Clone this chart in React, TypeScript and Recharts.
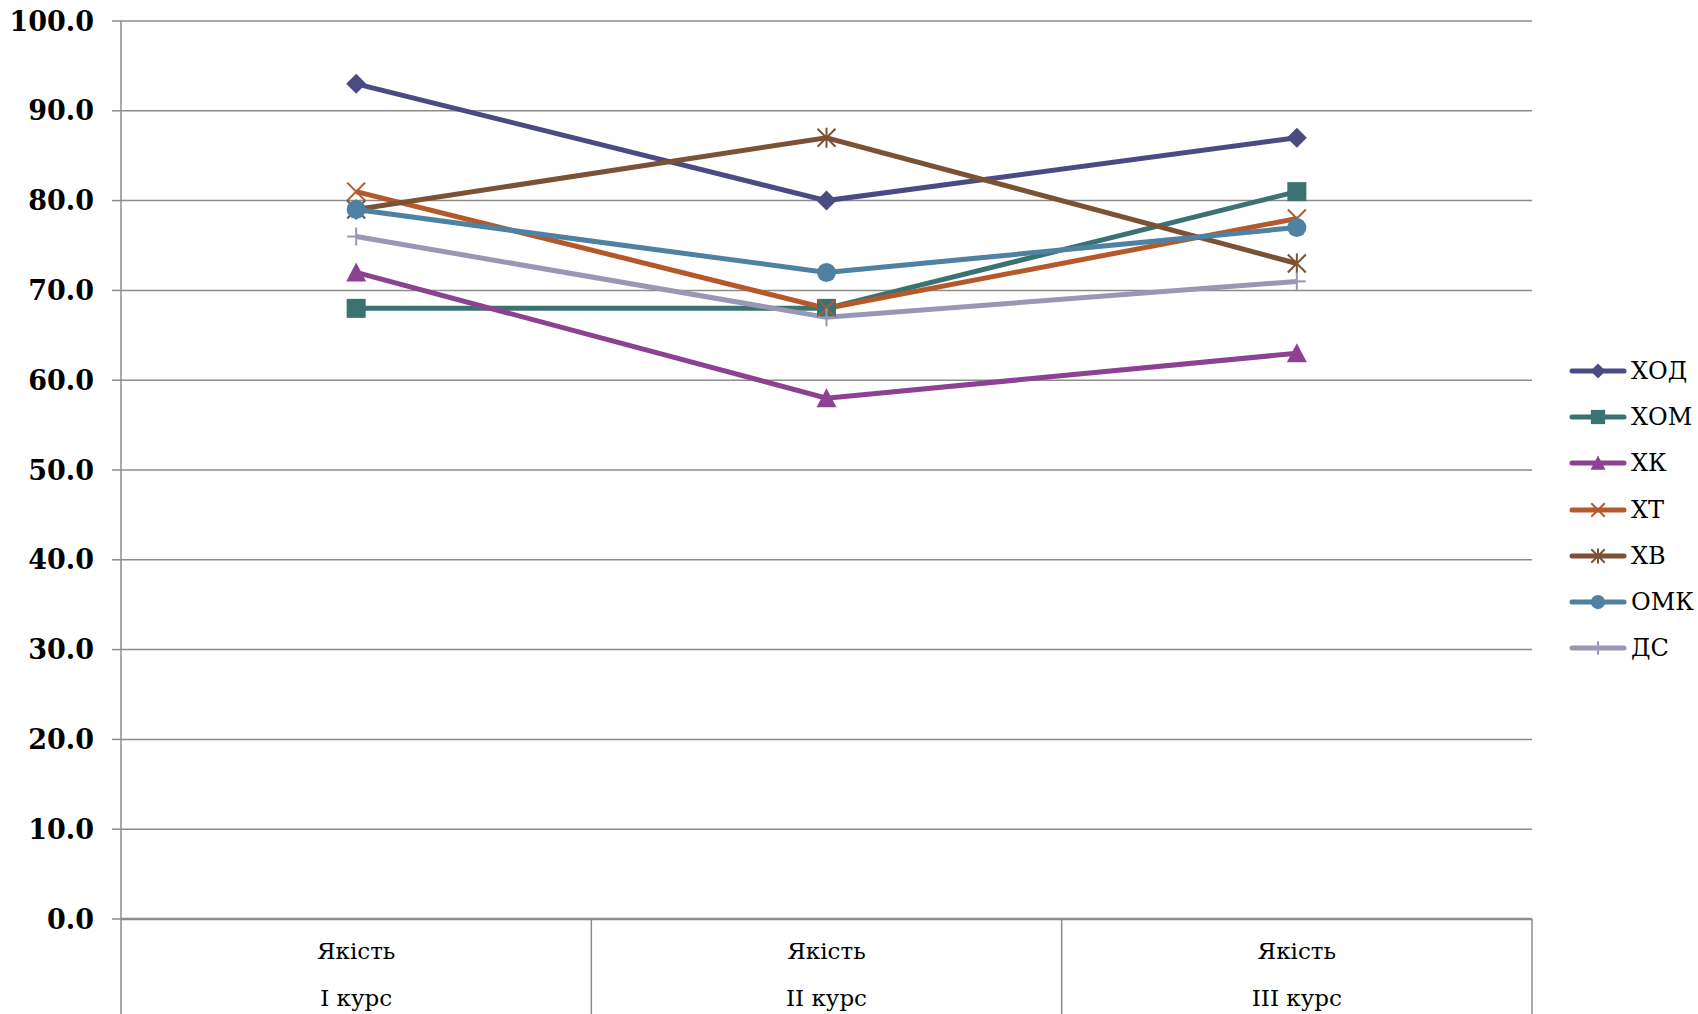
import React from 'react';
import { LineChart, Line, XAxis, YAxis, CartesianGrid, Legend } from 'recharts';

// categories on the x axis (two-level labels)
const metric = 'Якість';
const courses = ['I курс', 'II курс', 'III курс'];

// series values, one per course
const hod = [93, 80, 87];
const hom = [68, 68, 81];
const hk = [72, 58, 63];
const ht = [81, 68, 78];
const hv = [79, 87, 73];
const omk = [79, 72, 77];
const ds = [76, 67, 71];

const yTicks = [0, 10, 20, 30, 40, 50, 60, 70, 80, 90, 100];

type Shape = 'diamond' | 'square' | 'triangle' | 'x' | 'star' | 'circle' | 'plus';

const series: { key: string; name: string; values: number[]; color: string; shape: Shape }[] = [
  { key: 'hod', name: 'ХОД', values: hod, color: '#4B4B84', shape: 'diamond' },
  { key: 'hom', name: 'ХОМ', values: hom, color: '#3B7373', shape: 'square' },
  { key: 'hk', name: 'ХК', values: hk, color: '#8C4192', shape: 'triangle' },
  { key: 'ht', name: 'ХТ', values: ht, color: '#B5592A', shape: 'x' },
  { key: 'hv', name: 'ХВ', values: hv, color: '#7B5236', shape: 'star' },
  { key: 'omk', name: 'ОМК', values: omk, color: '#4F81A3', shape: 'circle' },
  { key: 'ds', name: 'ДС', values: ds, color: '#9A96B5', shape: 'plus' },
];

const chartData = courses.map((course, i) => {
  const row: Record<string, string | number> = { course };
  series.forEach(s => {
    row[s.key] = s.values[i];
  });
  return row;
});

const W = 1698;
const H = 1014;
const plotLeft = 121;
const plotRight = 1532;
const half = (plotRight - plotLeft) / courses.length / 2;
const gridColor = '#8c8c8c';
const serif = "'DejaVu Serif', Georgia, serif";

const Marker = ({ shape, cx, cy, color, r }: { shape: Shape; cx: number; cy: number; color: string; r: number }) => {
  switch (shape) {
    case 'diamond':
      return <polygon points={`${cx},${cy - r} ${cx + r},${cy} ${cx},${cy + r} ${cx - r},${cy}`} fill={color} />;
    case 'square':
      return <rect x={cx - r * 0.95} y={cy - r * 0.95} width={r * 1.9} height={r * 1.9} fill={color} />;
    case 'triangle':
      return <polygon points={`${cx},${cy - r} ${cx + r},${cy + r * 0.9} ${cx - r},${cy + r * 0.9}`} fill={color} />;
    case 'x':
      return (
        <g stroke={color} strokeWidth={2}>
          <line x1={cx - r * 0.9} y1={cy - r * 0.9} x2={cx + r * 0.9} y2={cy + r * 0.9} />
          <line x1={cx - r * 0.9} y1={cy + r * 0.9} x2={cx + r * 0.9} y2={cy - r * 0.9} />
        </g>
      );
    case 'star':
      return (
        <g stroke={color} strokeWidth={2}>
          <line x1={cx - r * 0.9} y1={cy - r * 0.9} x2={cx + r * 0.9} y2={cy + r * 0.9} />
          <line x1={cx - r * 0.9} y1={cy + r * 0.9} x2={cx + r * 0.9} y2={cy - r * 0.9} />
          <line x1={cx} y1={cy - r} x2={cx} y2={cy + r} />
        </g>
      );
    case 'circle':
      return <circle cx={cx} cy={cy} r={r * 0.95} fill={color} />;
    case 'plus':
    default:
      return (
        <g stroke={color} strokeWidth={2}>
          <line x1={cx - r * 0.9} y1={cy} x2={cx + r * 0.9} y2={cy} />
          <line x1={cx} y1={cy - r * 0.9} x2={cx} y2={cy + r * 0.9} />
        </g>
      );
  }
};

const makeDot = (shape: Shape, color: string) => (props: any) => {
  const { cx, cy, index } = props;
  if (cx == null || cy == null) return <g key={`d-${index}`} />;
  return (
    <g key={`d-${shape}-${index}`}>
      <Marker shape={shape} cx={cx} cy={cy} color={color} r={10} />
    </g>
  );
};

const CourseTick = (props: any) => {
  const { x, y, payload, index } = props;
  return (
    <g>
      <line x1={x - half} y1={y} x2={x - half} y2={H} stroke={gridColor} strokeWidth={1.5} />
      {index === courses.length - 1 && (
        <line x1={x + half} y1={y} x2={x + half} y2={H} stroke={gridColor} strokeWidth={1.5} />
      )}
      <text x={x} y={y + 40} textAnchor="middle" fontFamily={serif} fontSize={23} fill="#000">
        {metric}
      </text>
      <text x={x} y={y + 87} textAnchor="middle" fontFamily={serif} fontSize={23} fill="#000">
        {payload.value}
      </text>
    </g>
  );
};

const LegendContent = () => (
  <div style={{ position: 'relative' }}>
    {series.map(s => (
      <div key={s.key} style={{ display: 'flex', alignItems: 'center', height: 46.2 }}>
        <svg width={60} height={24} style={{ display: 'block' }}>
          <line x1={4} y1={12} x2={56} y2={12} stroke={s.color} strokeWidth={5} strokeLinecap="round" />
          <Marker shape={s.shape} cx={30} cy={12} color={s.color} r={7.5} />
        </svg>
        <span style={{ fontFamily: serif, fontSize: 24, color: '#000', marginLeft: 3, lineHeight: 1 }}>{s.name}</span>
      </div>
    ))}
  </div>
);

export default function App() {
  return (
    <div style={{ position: 'absolute', left: 0, top: 0, width: W, height: H, background: '#fff' }}>
      <LineChart width={W} height={H} data={chartData} margin={{ top: 21, right: W - plotRight, bottom: 0, left: 0 }}>
        <CartesianGrid vertical={false} stroke={gridColor} strokeWidth={1.5} />
        <XAxis
          dataKey="course"
          height={H - 919}
          padding={{ left: half, right: half }}
          axisLine={{ stroke: gridColor, strokeWidth: 2.5 }}
          tickLine={false}
          tickSize={0}
          tickMargin={0}
          interval={0}
          tick={<CourseTick />}
        />
        <YAxis
          width={plotLeft}
          domain={[0, 100]}
          ticks={yTicks}
          interval={0}
          axisLine={{ stroke: gridColor, strokeWidth: 1.5 }}
          tickLine={{ stroke: gridColor, strokeWidth: 1.5 }}
          tickSize={9}
          tickMargin={18}
          tickFormatter={(v: number) => v.toFixed(1)}
          tick={{ fontFamily: serif, fontSize: 27, fontWeight: 'bold', fill: '#000' }}
        />
        <Legend
          layout="vertical"
          align="center"
          verticalAlign="middle"
          content={<LegendContent />}
          wrapperStyle={{ left: 1568, top: 348, width: 130 }}
        />
        {series.map(s => (
          <Line
            key={s.key}
            type="linear"
            dataKey={s.key}
            name={s.name}
            stroke={s.color}
            strokeWidth={5}
            dot={makeDot(s.shape, s.color)}
            activeDot={false}
            isAnimationActive={false}
          />
        ))}
      </LineChart>
    </div>
  );
}
